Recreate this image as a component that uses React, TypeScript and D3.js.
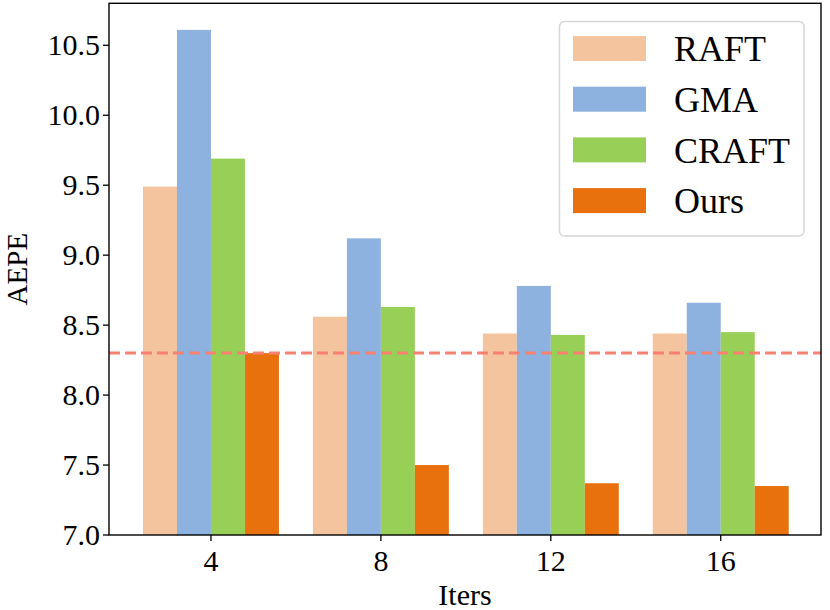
import * as d3 from "d3";

const iters = ["4", "8", "12", "16"];
const methods = ["RAFT", "GMA", "CRAFT", "Ours"];
const colors = ["#f4c49e", "#8db2df", "#98d057", "#e8710e"];
const raft = [9.49, 8.56, 8.44, 8.44];
const gma = [10.61, 9.12, 8.78, 8.66];
const craft = [9.69, 8.63, 8.43, 8.45];
const ours = [8.3, 7.5, 7.37, 7.35];
const yTicks = [7.0, 7.5, 8.0, 8.5, 9.0, 9.5, 10.0, 10.5];
const baseline = 8.3;

const series = [raft, gma, craft, ours];

const W = 830;
const H = 610;
const left = 109;
const right = 821;
const top = 3.3;
const bottom = 535;
const font = "'Liberation Serif', 'Times New Roman', serif";

export default function App() {
  const x = d3.scaleLinear().domain([-0.6, 3.59]).range([left, right]);
  const y = d3.scaleLinear().domain([7, 10.8]).range([bottom, top]);
  const barW = x(0.2) - x(0);

  return (
    <svg
      width={W}
      height={H}
      style={{ position: "absolute", left: 0, top: 0, background: "#fff" }}
    >
      {/* bars */}
      {series.map((vals, s) =>
        vals.map((v, i) => (
          <rect
            key={`${s}-${i}`}
            x={x(i) + (s - 2) * barW}
            y={y(v)}
            width={barW}
            height={y(7) - y(v)}
            fill={colors[s]}
          />
        ))
      )}

      {/* reference line */}
      <line
        x1={left}
        x2={right}
        y1={y(baseline)}
        y2={y(baseline)}
        stroke="#fa8072"
        strokeWidth={3}
        strokeDasharray="11 5"
      />

      {/* frame */}
      <rect
        x={left}
        y={top}
        width={right - left}
        height={bottom - top}
        fill="none"
        stroke="#000"
        strokeWidth={1.4}
      />

      {/* y axis */}
      {yTicks.map((t) => (
        <g key={t} transform={`translate(0,${y(t)})`}>
          <line x1={left - 6} x2={left} stroke="#000" strokeWidth={1.3} />
          <text
            x={left - 9}
            dy="0.34em"
            textAnchor="end"
            fontFamily={font}
            fontSize={30}
          >
            {t.toFixed(1)}
          </text>
        </g>
      ))}

      {/* x axis */}
      {iters.map((lab, i) => (
        <g key={lab} transform={`translate(${x(i)},0)`}>
          <line y1={bottom} y2={bottom + 6} stroke="#000" strokeWidth={1.3} />
          <text
            y={bottom + 36}
            textAnchor="middle"
            fontFamily={font}
            fontSize={30}
          >
            {lab}
          </text>
        </g>
      ))}

      <text
        x={(left + right) / 2}
        y={605}
        textAnchor="middle"
        fontFamily={font}
        fontSize={30}
      >
        Iters
      </text>
      <text
        transform={`translate(27,${(top + bottom) / 2}) rotate(-90)`}
        textAnchor="middle"
        fontFamily={font}
        fontSize={29}
      >
        AEPE
      </text>

      {/* legend */}
      <g>
        <rect
          x={559.5}
          y={21.5}
          width={244.5}
          height={214.5}
          rx={5}
          fill="#fff"
          fillOpacity={0.85}
          stroke="#d6d6d6"
          strokeWidth={1.5}
        />
        {methods.map((m, k) => (
          <g key={m} transform={`translate(0,${48.5 + k * 50.7})`}>
            <rect x={573} y={-12.5} width={73} height={25} fill={colors[k]} />
            <text x={674} dy="0.35em" fontFamily={font} fontSize={36}>
              {m}
            </text>
          </g>
        ))}
      </g>
    </svg>
  );
}
